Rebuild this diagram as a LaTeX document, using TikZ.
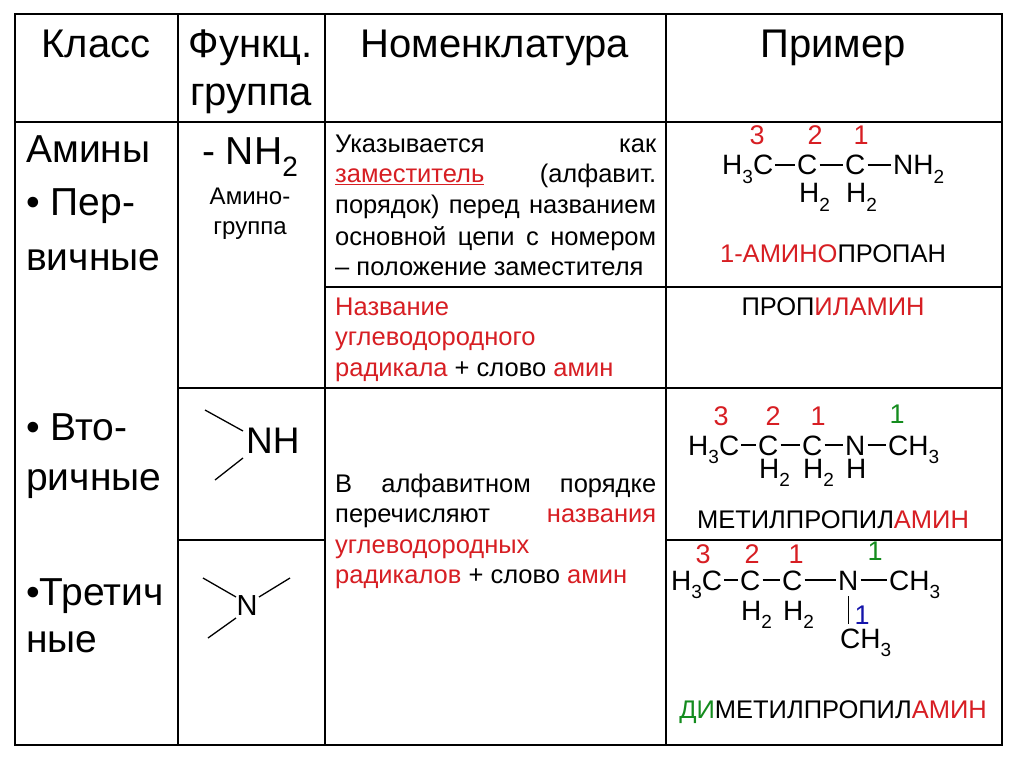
\documentclass[tikz,border=0pt]{standalone}
\usepackage{fontspec}
\setmainfont{Liberation Sans}
\definecolor{rd}{RGB}{215,30,35}
\definecolor{gn}{RGB}{20,140,30}
\definecolor{bl}{RGB}{20,20,170}
\newcommand{\subn}[1]{\raisebox{-0.3em}{\fontsize{19}{19}\selectfont #1}}
\newcommand{\bnd}[2]{\draw[bondl] ([xshift=2pt,yshift=10pt]#1.base east) -- ([xshift=-2pt,yshift=10pt]#2.base west);}
\begin{document}
\begin{tikzpicture}[x=1pt,y=-1pt,
  grid/.style={line width=2pt},
  hd/.style={font=\fontsize{40}{40}\selectfont,anchor=base},
  cl/.style={font=\fontsize{39}{39}\selectfont,anchor=base west,inner sep=0},
  tx/.style={font=\fontsize{25.5}{25.5}\selectfont,anchor=base west,inner sep=0},
  ch/.style={font=\fontsize{28}{28}\selectfont,anchor=base west,inner sep=0},
  bondl/.style={line width=1.3pt},
  nm/.style={font=\fontsize{27}{27}\selectfont,anchor=base,inner sep=0}]
\useasboundingbox (0,0) rectangle (1024,767);
\fill[white] (0,0) rectangle (1024,767);
% grid
\draw[grid] (15,14) rectangle (1002,745);
\draw[grid] (15,122) -- (1002,122);
\draw[grid] (178,14) -- (178,745);
\draw[grid] (325,14) -- (325,745);
\draw[grid] (666,14) -- (666,745);
\draw[grid] (325,287) -- (1002,287);
\draw[grid] (178,388) -- (1002,388);
\draw[grid] (178,540) -- (325,540);
\draw[grid] (666,540) -- (1002,540);
% header
\node[hd] (h1) at (96,58) {Класс};
\node[hd] (h2) at (251,58) {Функц.};
\node[hd] (h2b) at (251,106) {группа};
\node[hd] (h3) at (495,58) {Номенклатура};
\node[hd] (h4) at (833,58) {Пример};
% col1
\node[cl] (c1) at (26,163) {Амины};
\node[cl] (c2) at (26,215) {• Пер-};
\node[cl] (c3) at (26,270) {вичные};
\node[cl] (c4) at (26,440) {• Вто-};
\node[cl] (c5) at (26,490) {ричные};
\node[cl] (c6) at (26,605) {•Третич};
\node[cl] (c7) at (26,652) {ные};
% col2
\node[font=\fontsize{39}{39}\selectfont,anchor=base] (g1) at (250,165) {- NH\raisebox{-0.3em}{\fontsize{28}{28}\selectfont 2}};
\node[font=\fontsize{24}{24}\selectfont,anchor=base] (g2) at (250,205) {Амино-};
\node[font=\fontsize{24}{24}\selectfont,anchor=base] (g3) at (250,235) {группа};
\node[font=\fontsize{37}{37}\selectfont,anchor=base west,inner sep=0] (nh) at (246,453) {NH};
\coordinate (s1) at (205,410); \coordinate (s2) at (243,431);
\coordinate (s3) at (215,480); \coordinate (s4) at (243,458);
\draw[bondl] (s1) -- (s2); \draw[bondl] (s3) -- (s4);
\node[font=\fontsize{29}{29}\selectfont,anchor=base] (n3) at (247,615) {N};
\coordinate (t1) at (203,578); \coordinate (t2) at (236,597);
\coordinate (t3) at (290,578); \coordinate (t4) at (259,597);
\coordinate (t5) at (208,638); \coordinate (t6) at (236,618);
\draw[bondl] (t1) -- (t2); \draw[bondl] (t3) -- (t4); \draw[bondl] (t5) -- (t6);
% col3
\node[tx] (p1) at (335,153) {\makebox[321pt][s]{Указывается как}};
\node[tx] (p2) at (335,183) {\makebox[321pt][s]{\textcolor{rd}{\underline{заместитель}} (алфавит.}};
\node[tx] (p3) at (335,214) {\makebox[321pt][s]{порядок) перед названием}};
\node[tx] (p4) at (335,245) {\makebox[321pt][s]{основной цепи с номером}};
\node[tx] (p5) at (335,275) {– положение заместителя};
\node[tx,text=rd] (q1) at (335,315) {Название};
\node[tx,text=rd] (q2) at (335,345) {углеводородного};
\node[tx] (q3) at (335,376) {\textcolor{rd}{радикала} + слово \textcolor{rd}{амин}};
\node[tx] (r1) at (335,492) {\makebox[321pt][s]{В алфавитном порядке}};
\node[tx] (r2) at (335,522) {\makebox[321pt][s]{перечисляют \textcolor{rd}{названия}}};
\node[tx,text=rd] (r3) at (335,553) {углеводородных};
\node[tx] (r4) at (335,583) {\textcolor{rd}{радикалов} + слово \textcolor{rd}{амин}};
% chem1
\node[nm,text=rd] (k3) at (757,145) {3};
\node[nm,text=rd] (k2) at (815,145) {2};
\node[nm,text=rd] (k1) at (861,145) {1};
\node[ch] (a1) at (722,175) {H\subn{3}C};
\node[ch] (a2) at (797,175) {C};
\node[ch] (a3) at (845,175) {C};
\node[ch] (a4) at (893,175) {NH\subn{2}};
\bnd{a1}{a2} \bnd{a2}{a3} \bnd{a3}{a4}
\node[ch] (a5) at (799,203) {H\subn{2}};
\node[ch] (a6) at (846,203) {H\subn{2}};
\node[tx,anchor=base] (e1) at (833,262) {\textcolor{rd}{1-АМИНО}ПРОПАН};
\node[tx,anchor=base] (e2) at (833,315) {ПРОП\textcolor{rd}{ИЛАМИН}};
% chem2
\node[nm,text=rd] (m3) at (721,425) {3};
\node[nm,text=rd] (m2) at (773,425) {2};
\node[nm,text=rd] (m1) at (818,425) {1};
\node[nm,text=gn] (m4) at (897,423) {1};
\node[ch] (b1) at (688,455) {H\subn{3}C};
\node[ch] (b2) at (758,455) {C};
\node[ch] (b3) at (802,455) {C};
\node[ch] (b4) at (845,455) {N};
\node[ch] (b5) at (888,455) {CH\subn{3}};
\bnd{b1}{b2} \bnd{b2}{b3} \bnd{b3}{b4} \bnd{b4}{b5}
\node[ch] (b6) at (759,478) {H\subn{2}};
\node[ch] (b7) at (803,478) {H\subn{2}};
\node[ch] (b8) at (846,478) {H};
\node[tx,anchor=base] (e3) at (833,528) {МЕТИЛПРОПИЛ\textcolor{rd}{АМИН}};
% chem3
\node[nm,text=rd] (n3a) at (703,563) {3};
\node[nm,text=rd] (n2a) at (752,563) {2};
\node[nm,text=rd] (n1a) at (796,563) {1};
\node[nm,text=gn] (n4a) at (875,560) {1};
\node[ch] (d1) at (671,590) {H\subn{3}C};
\node[ch] (d2) at (740,590) {C};
\node[ch] (d3) at (782,590) {C};
\node[ch] (d4) at (838,590) {N};
\node[ch] (d5) at (889,590) {CH\subn{3}};
\bnd{d1}{d2} \bnd{d2}{d3} \bnd{d3}{d4} \bnd{d4}{d5}
\node[ch] (d6) at (741,620) {H\subn{2}};
\node[ch] (d7) at (783,620) {H\subn{2}};
\node[ch] (d8) at (840,648) {CH\subn{3}};
\draw[bondl] ([yshift=-6pt]d4.south) -- ([yshift=4pt]d8.north -| d4.south);
\node[nm,text=bl] (n5a) at (862,624) {1};
\node[tx,anchor=base] (e4) at (833,718) {\textcolor{gn}{ДИ}МЕТИЛПРОПИЛ\textcolor{rd}{АМИН}};
\end{tikzpicture}
\end{document}
